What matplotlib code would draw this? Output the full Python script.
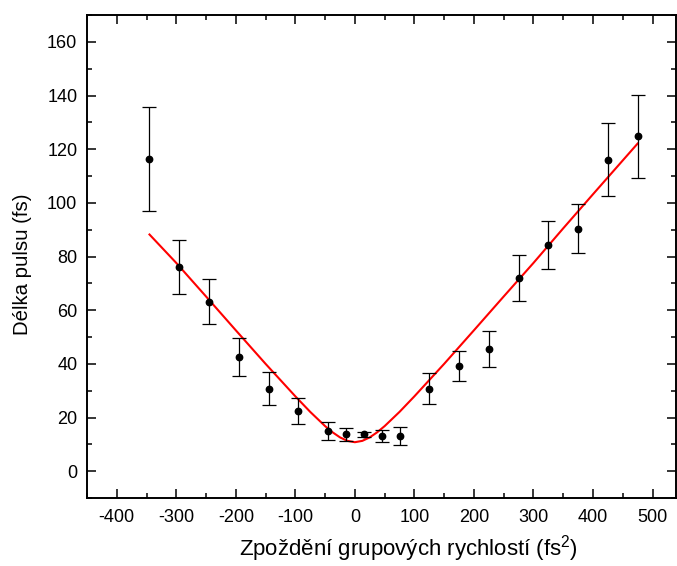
"""
Délka pulsu v závislosti na zpoždění grupových rychlostí
"""

import numpy as np
import matplotlib
matplotlib.use("Agg")
import matplotlib.pyplot as plt
from matplotlib.ticker import MultipleLocator

plt.rcParams['font.family'] = ['Liberation Sans', 'DejaVu Sans']
plt.rcParams['mathtext.fontset'] = 'custom'
plt.rcParams['mathtext.rm'] = 'Liberation Sans'
plt.rcParams['mathtext.it'] = 'Liberation Sans:italic'
plt.rcParams['axes.unicode_minus'] = False

# Naměřené body (fs^2, fs) a chyby
gdd = [-345, -295, -245, -195, -145, -95, -45, -15, 15, 45, 75,
       125, 175, 225, 275, 325, 375, 425, 475]
delka = [116.4, 76.0, 63.2, 42.5, 30.8, 22.4, 15.0, 13.8, 13.7, 13.1, 13.2,
         30.8, 39.2, 45.6, 72.0, 84.3, 90.4, 116.1, 124.8]
chyba = [19.5, 10.0, 8.3, 7.0, 6.1, 4.9, 3.4, 2.4, 1.0, 2.3, 3.4,
         5.9, 5.7, 6.6, 8.5, 9.0, 9.2, 13.6, 15.5]

# Fitovaná křivka
fit_x = [-345, -300, -250, -200, -150, -100, -75, -50, -37.5, -25, -12.5, 0,
         12.5, 25, 37.5, 50, 75, 100, 150, 200, 250, 300, 350, 400, 475]
fit_y = [88.2, 77.6, 65.1, 52.5, 40.0, 27.9, 22.1, 16.8, 14.5, 12.6, 11.3, 10.8,
         11.3, 12.6, 14.5, 16.8, 22.1, 27.9, 40.0, 52.5, 65.1, 77.6, 90.5, 103.2, 122.1]

fig = plt.figure(figsize=(6.77, 5.66), dpi=100)
ax = fig.add_axes([0.1285, 0.1201, 0.8705, 0.8534])

ax.plot(fit_x, fit_y, color='red', linewidth=1.5, zorder=2)
ax.errorbar(gdd, delka, yerr=chyba, fmt='o', color='black', markersize=4.6,
            ecolor='black', elinewidth=0.9, capsize=5, capthick=0.9, zorder=3)

ax.set_xlim(-450, 540)
ax.set_ylim(-10, 170)
ax.xaxis.set_major_locator(MultipleLocator(100))
ax.xaxis.set_minor_locator(MultipleLocator(50))
ax.yaxis.set_major_locator(MultipleLocator(20))
ax.yaxis.set_minor_locator(MultipleLocator(10))

ax.tick_params(which='both', direction='in', top=True, right=True, width=1.1,
               labelsize=13)
ax.tick_params(axis='x', pad=8)
ax.tick_params(axis='y', pad=7)
ax.tick_params(which='major', length=6.8)
ax.tick_params(which='minor', length=3.6)
for s in ax.spines.values():
    s.set_linewidth(1.4)

ax.set_xlabel('Zpoždění grupových rychlostí (fs$^2$)', fontsize=16, labelpad=5)
ax.set_ylabel('Délka pulsu (fs)', fontsize=14.7, labelpad=11)
ax.xaxis.label.set_x(0.545)
ax.yaxis.label.set_y(0.485)

fig.savefig('out.png', dpi=100)
